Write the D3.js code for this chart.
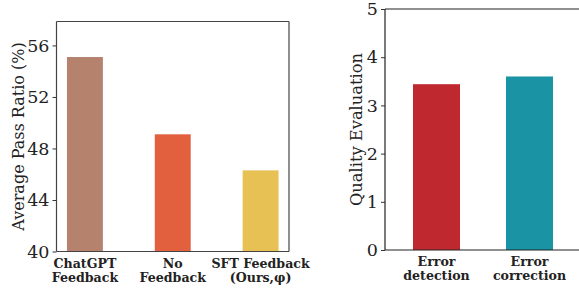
<!DOCTYPE html>
<html><head><meta charset="utf-8">
<script src="https://cdn.jsdelivr.net/npm/d3@7"></script>
<style>body{margin:0;background:#fff}svg{display:block}</style>
</head><body>
<script>
const leftCategories = [["ChatGPT","Feedback"],["No","Feedback"],["SFT Feedback","(Ours,\u03c6)"]];
const leftValues = [55.1, 49.1, 46.3];
const leftColors = ["#b5826d","#e3603f","#e8c155"];
const leftTicks = [40, 44, 48, 52, 56];
const rightCategories = [["Error","detection"],["Error","correction"]];
const rightValues = [3.44, 3.60];
const rightColors = ["#c0282f","#1a93a5"];
const rightTicks = [0, 1, 2, 3, 4, 5];

const W = 579, H = 289;
const svg = d3.select("body").append("svg").attr("width", W).attr("height", H);
const serif = "DejaVu Serif";

function panel(opt) {
  const g = svg.append("g");
  const x = d3.scaleBand().domain(d3.range(opt.cats.length)).range([opt.x0, opt.xr]).paddingInner(opt.pi).paddingOuter(opt.po);
  const y = d3.scaleLinear().domain(opt.dom).range([opt.y1, opt.y0]);
  g.selectAll("rect.bar").data(opt.vals).join("rect")
    .attr("x", (d, i) => x(i)).attr("width", x.bandwidth())
    .attr("y", d => y(d)).attr("height", d => y(opt.dom[0]) - y(d))
    .attr("fill", (d, i) => opt.colors[i]);
  const ya = g.append("g").attr("transform", `translate(${opt.x0},0)`)
    .call(d3.axisLeft(y).tickValues(opt.ticks).tickSize(4).tickPadding(3).tickFormat(d3.format("d")));
  ya.select(".domain").remove();
  ya.selectAll("text").attr("font-family", serif).attr("font-size", 17.5).attr("fill", "#222");
  ya.selectAll("line").attr("stroke", "#333");
  const sp = g.append("g").attr("fill", "none").attr("stroke", opt.spine).attr("stroke-width", 1.2);
  sp.append("line").attr("x1", opt.x0).attr("x2", opt.x0).attr("y1", opt.y0).attr("y2", opt.y1);
  sp.append("line").attr("x1", opt.x0).attr("x2", opt.x1).attr("y1", opt.y1).attr("y2", opt.y1);
  sp.append("line").attr("x1", opt.x0).attr("x2", opt.x1).attr("y1", opt.y0).attr("y2", opt.y0);
  if (opt.rightSpine) sp.append("line").attr("x1", opt.x1).attr("x2", opt.x1).attr("y1", opt.y0).attr("y2", opt.y1);
  opt.cats.forEach((c, i) => {
    const t = g.append("text").attr("text-anchor", "middle").attr("font-family", serif)
      .attr("font-weight", "bold").attr("font-size", 12.6).attr("fill", "#222");
    c.forEach((line, k) => t.append("tspan").attr("x", x(i) + x.bandwidth() / 2).attr("y", opt.y1 + 16 + k * 14).text(line));
  });
  g.append("text").attr("transform", `translate(${opt.lx},${(opt.y0 + opt.y1) / 2}) rotate(-90)`)
    .attr("text-anchor", "middle").attr("dominant-baseline", "central")
    .attr("font-family", serif).attr("font-size", opt.lfs).attr("fill", "#222").text(opt.label);
}

panel({cats: leftCategories, vals: leftValues, colors: leftColors, ticks: leftTicks,
  dom: [40, 57.86], x0: 56.5, x1: 289, xr: 289, y0: 21.5, y1: 251.5, pi: 0.591, po: 0.119,
  spine: "#444", rightSpine: true, label: "Average Pass Ratio (%)", lx: 18, lfs: 16});
panel({cats: rightCategories, vals: rightValues, colors: rightColors, ticks: rightTicks,
  dom: [0, 5], x0: 385, x1: 590, xr: 581, y0: 9, y1: 250, pi: 0.4946, po: 0.301,
  spine: "#222", rightSpine: false, label: "Quality Evaluation", lx: 356, lfs: 16.3});
</script>
</body></html>
